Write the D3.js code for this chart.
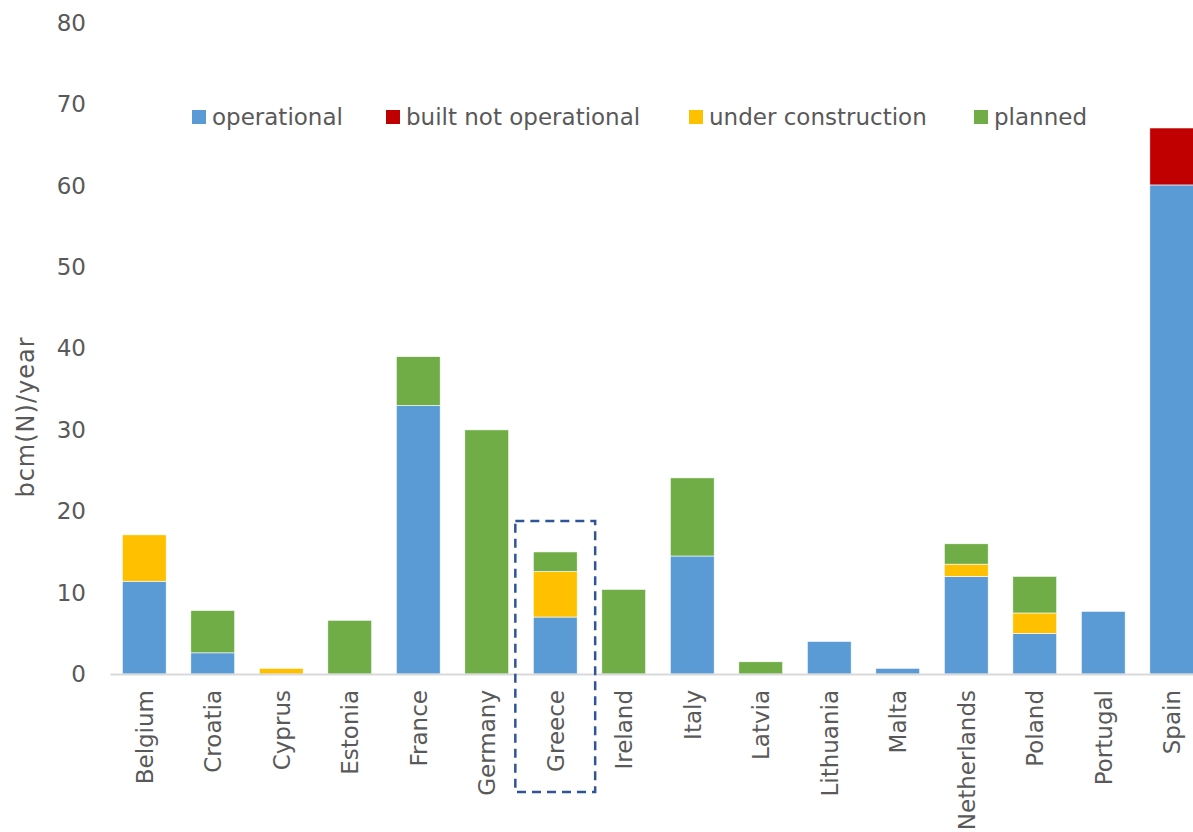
<!DOCTYPE html>
<html><head><meta charset="utf-8">
<script src="https://cdn.jsdelivr.net/npm/d3@7/dist/d3.min.js"></script>
<style>body{margin:0;background:#fff}svg{display:block}text{font-family:"DejaVu Sans",Verdana,sans-serif;fill:#595959}</style>
</head><body><svg id="c" width="1193" height="832"></svg>
<script>
const categories = ["Belgium","Croatia","Cyprus","Estonia","France","Germany","Greece","Ireland","Italy","Latvia","Lithuania","Malta","Netherlands","Poland","Portugal","Spain"];
const operational        = [11.4, 2.6, 0,   0,   33, 0,  7,   0,    14.5, 0,   4, 0.7, 12,  5,   7.7, 60.1];
const builtNotOperational= [0,    0,   0,   0,   0,  0,  0,   0,    0,    0,   0, 0,   0,   0,   0,   7];
const underConstruction  = [5.7,  0,   0.7, 0,   0,  0,  5.6, 0,    0,    0,   0, 0,   1.5, 2.5, 0,   0];
const planned            = [0,    5.2, 0,   6.6, 6,  30, 2.4, 10.4, 9.6,  1.5, 0, 0,   2.5, 4.5, 0,   0];
const seriesNames = ["operational","built not operational","under construction","planned"];
const seriesColors = ["#5B9BD5","#C00000","#FFC000","#70AD47"];
const yTicks = [0,10,20,30,40,50,60,70,80];
const highlighted = "Greece";
const highlightTop = 18.8;

const svg = d3.select("#c");
const x = d3.scaleBand().domain(categories).range([110, 1206]).paddingInner(0.36).paddingOuter(0.18);
const y = d3.scaleLinear().domain([0, 80]).range([674, 23]);

const rows = categories.map((c,i)=>({cat:c, operational:operational[i], bno:builtNotOperational[i], uc:underConstruction[i], planned:planned[i]}));
const keys = ["operational","bno","uc","planned"];
const stack = d3.stack().keys(keys)(rows);

// y axis tick labels
const ya = svg.append("g").attr("transform","translate(86,0)")
  .call(d3.axisLeft(y).tickValues(yTicks).tickSize(0).tickPadding(0));
ya.select(".domain").remove();
ya.selectAll("text").style("font-size","23px").attr("fill","#595959").style("font-family","'DejaVu Sans',Verdana,sans-serif");

// bars
stack.forEach((s,si)=>{
  svg.append("g").selectAll("rect").data(s.filter(d=>d[1]-d[0]>0)).join("rect")
    .attr("x", d=>x(d.data.cat)).attr("width", x.bandwidth())
    .attr("y", d=>y(d[1])).attr("height", d=>y(d[0])-y(d[1]))
    .attr("fill", seriesColors[si]).attr("stroke","#fff").attr("stroke-width",0.6);
});

// x axis
const xa = svg.append("g").attr("transform","translate(0,674)")
  .call(d3.axisBottom(x).tickSize(0).tickPadding(0));
xa.select(".domain").attr("stroke","#D9D9D9").attr("stroke-width",2);
xa.selectAll("text").style("font-size","23px").attr("fill","#595959").style("font-family","'DejaVu Sans',Verdana,sans-serif")
  .attr("text-anchor","end").attr("transform","translate(0,16) rotate(-90)").attr("dy","0.36em").attr("y",0).attr("x",0);

// y axis title
svg.append("text").attr("transform","translate(34,417) rotate(-90)").attr("text-anchor","middle")
  .style("font-size","24px").style("letter-spacing","1px").text("bcm(N)/year");

// highlight box
svg.append("rect").attr("x", x(highlighted) - 18).attr("width", x.bandwidth() + 36)
  .attr("y", y(highlightTop)).attr("height", 792 - y(highlightTop))
  .attr("fill","none").attr("stroke","#2F5597").attr("stroke-width",2.5).attr("stroke-dasharray","9,6");

// legend
const legendX = [192, 386, 689, 974];
const lg = svg.append("g");
seriesNames.forEach((n,i)=>{
  lg.append("rect").attr("x",legendX[i]).attr("y",110).attr("width",14).attr("height",14).attr("fill",seriesColors[i]);
  lg.append("text").attr("x",legendX[i]+20).attr("y",125).style("font-size","23px").text(n);
});
</script></body></html>
